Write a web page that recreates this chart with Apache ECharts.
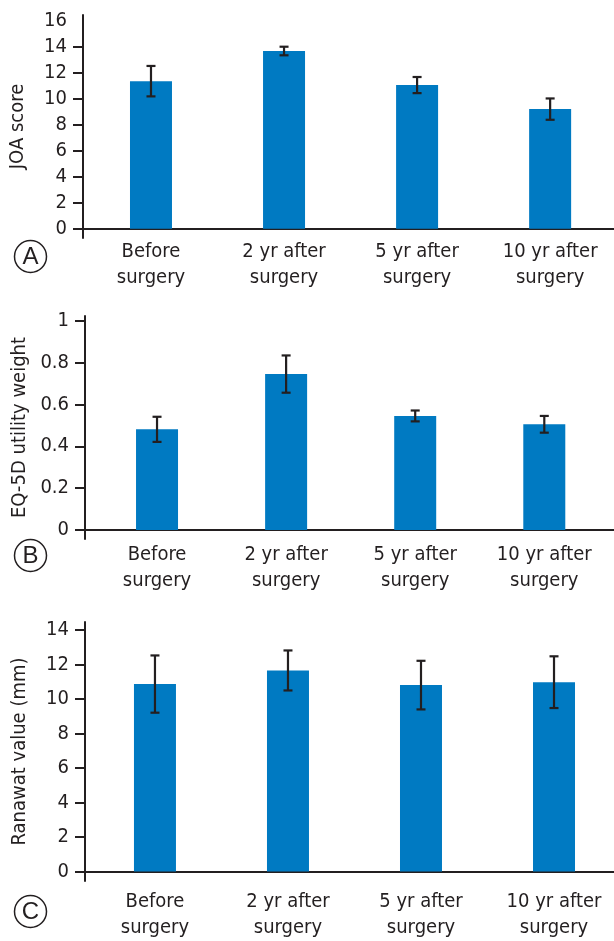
<!DOCTYPE html>
<html>
<head>
<meta charset="utf-8">
<script src="https://cdn.jsdelivr.net/npm/echarts@6/dist/echarts.min.js"></script>
<style>
html,body{margin:0;padding:0;background:#fff;}
#chart{width:614px;height:941px;}
</style>
</head>
<body>
<div id="chart"></div>
<script>
// ---- data ----
const categories = ["Before\nsurgery", "2 yr after\nsurgery", "5 yr after\nsurgery", "10 yr after\nsurgery"];
const joaMean = [11.35, 13.67, 11.05, 9.2];
const joaErr  = [1.17, 0.33, 0.62, 0.82];
const eqMean  = [0.481, 0.745, 0.545, 0.505];
const eqErr   = [0.06, 0.089, 0.026, 0.04];
const ranMean = [10.87, 11.66, 10.81, 10.98];
const ranErr  = [1.66, 1.16, 1.41, 1.5];
const joaTicks = [0, 2, 4, 6, 8, 10, 12, 14, 16];
const joaTickMarks = [0, 2, 4, 6, 8, 10, 12, 14];
const eqTicks = [0, 0.2, 0.4, 0.6, 0.8, 1];
const ranTicks = [0, 2, 4, 6, 8, 10, 12, 14];
const yNames = ["JOA score", "EQ-5D utility weight", "Ranawat value (mm)"];
const panelLetters = ["A", "B", "C"];

const FONT = "'DejaVu Sans Condensed','Liberation Sans Narrow',sans-serif";
const LETTER_FONT = "'Liberation Sans','Arimo',sans-serif";
const FS = 20;
const INK = '#231f20';
const BLUE = '#007ac2';

const chart = echarts.init(document.getElementById('chart'), null, {renderer: 'canvas'});

const panels = [
  {mean: joaMean, err: joaErr, labels: joaTicks, ticks: joaTickMarks, ymin: -0.715, ymax: 16.44,
   xmin: -0.511, xmax: 3.48, top: 15, height: 223, left: 83, labelMargin: 1},
  {mean: eqMean, err: eqErr, labels: eqTicks, ticks: eqTicks, ymin: -0.043, ymax: 1.0225,
   xmin: -0.558, xmax: 3.54, top: 316, height: 223, left: 85, labelMargin: 3},
  {mean: ranMean, err: ranErr, labels: ranTicks, ticks: ranTicks, ymin: -0.55, ymax: 14.47,
   xmin: -0.526, xmax: 3.451, top: 622, height: 265, left: 85, labelMargin: 8}
];
const letterY = [254, 553, 909];

const grids = [], xAxes = [], yAxes = [], series = [], graphics = [];
panels.forEach((p, i) => {
  grids.push({left: p.left, right: 0, top: p.top, height: p.height, containLabel: false});
  xAxes.push({
    type: 'value', gridIndex: i, min: p.xmin, max: p.xmax,
    splitLine: {show: false},
    axisTick: {show: false},
    axisLine: {show: true, onZero: true, lineStyle: {color: INK, width: 2}},
    axisLabel: {
      customValues: [0, 1, 2, 3],
      formatter: v => categories[Math.round(v)],
      color: INK, fontFamily: FONT, fontSize: FS, lineHeight: 26, margin: p.labelMargin
    }
  });
  yAxes.push({
    type: 'value', gridIndex: i, min: p.ymin, max: p.ymax,
    splitLine: {show: false},
    axisLine: {show: true, onZero: false, lineStyle: {color: INK, width: 2}},
    axisTick: {show: true, customValues: p.ticks, length: 10, lineStyle: {color: INK, width: 2}},
    axisLabel: {customValues: p.labels, color: INK, fontFamily: FONT, fontSize: FS, margin: 16},
    name: yNames[i], nameLocation: 'middle', nameGap: 55,
    nameTextStyle: {color: INK, fontFamily: FONT, fontSize: FS}
  });
  series.push({
    type: 'bar', xAxisIndex: i, yAxisIndex: i, barWidth: 42,
    itemStyle: {color: BLUE},
    data: p.mean.map((m, k) => [k, m]),
    z: 2
  });
  series.push({
    type: 'custom', xAxisIndex: i, yAxisIndex: i, z: 5,
    encode: {x: 0, y: [1, 2]},
    data: p.mean.map((m, k) => [k, m - p.err[k], m + p.err[k]]),
    renderItem: (params, api) => {
      const x = api.value(0);
      const lo = api.coord([x, api.value(1)]);
      const hi = api.coord([x, api.value(2)]);
      const w = 4.5;
      const st = {stroke: INK, lineWidth: 2.2};
      return {type: 'group', children: [
        {type: 'line', shape: {x1: lo[0], y1: lo[1], x2: hi[0], y2: hi[1]}, style: st},
        {type: 'line', shape: {x1: lo[0] - w, y1: lo[1], x2: lo[0] + w, y2: lo[1]}, style: st},
        {type: 'line', shape: {x1: hi[0] - w, y1: hi[1], x2: hi[0] + w, y2: hi[1]}, style: st}
      ]};
    }
  });
  graphics.push({
    type: 'group', left: 12, top: letterY[i] - 16,
    children: [
      {type: 'circle', shape: {cx: 16, cy: 16, r: 16}, style: {fill: 'none', stroke: INK, lineWidth: 1.5}},
      {type: 'text', x: 16, y: 17, style: {text: panelLetters[i], fill: INK, font: '24px ' + LETTER_FONT, align: 'center', verticalAlign: 'middle'}}
    ]
  });
});

chart.setOption({
  animation: false,
  backgroundColor: '#fff',
  textStyle: {fontFamily: FONT},
  grid: grids, xAxis: xAxes, yAxis: yAxes, series: series, graphic: graphics
});
</script>
</body>
</html>
